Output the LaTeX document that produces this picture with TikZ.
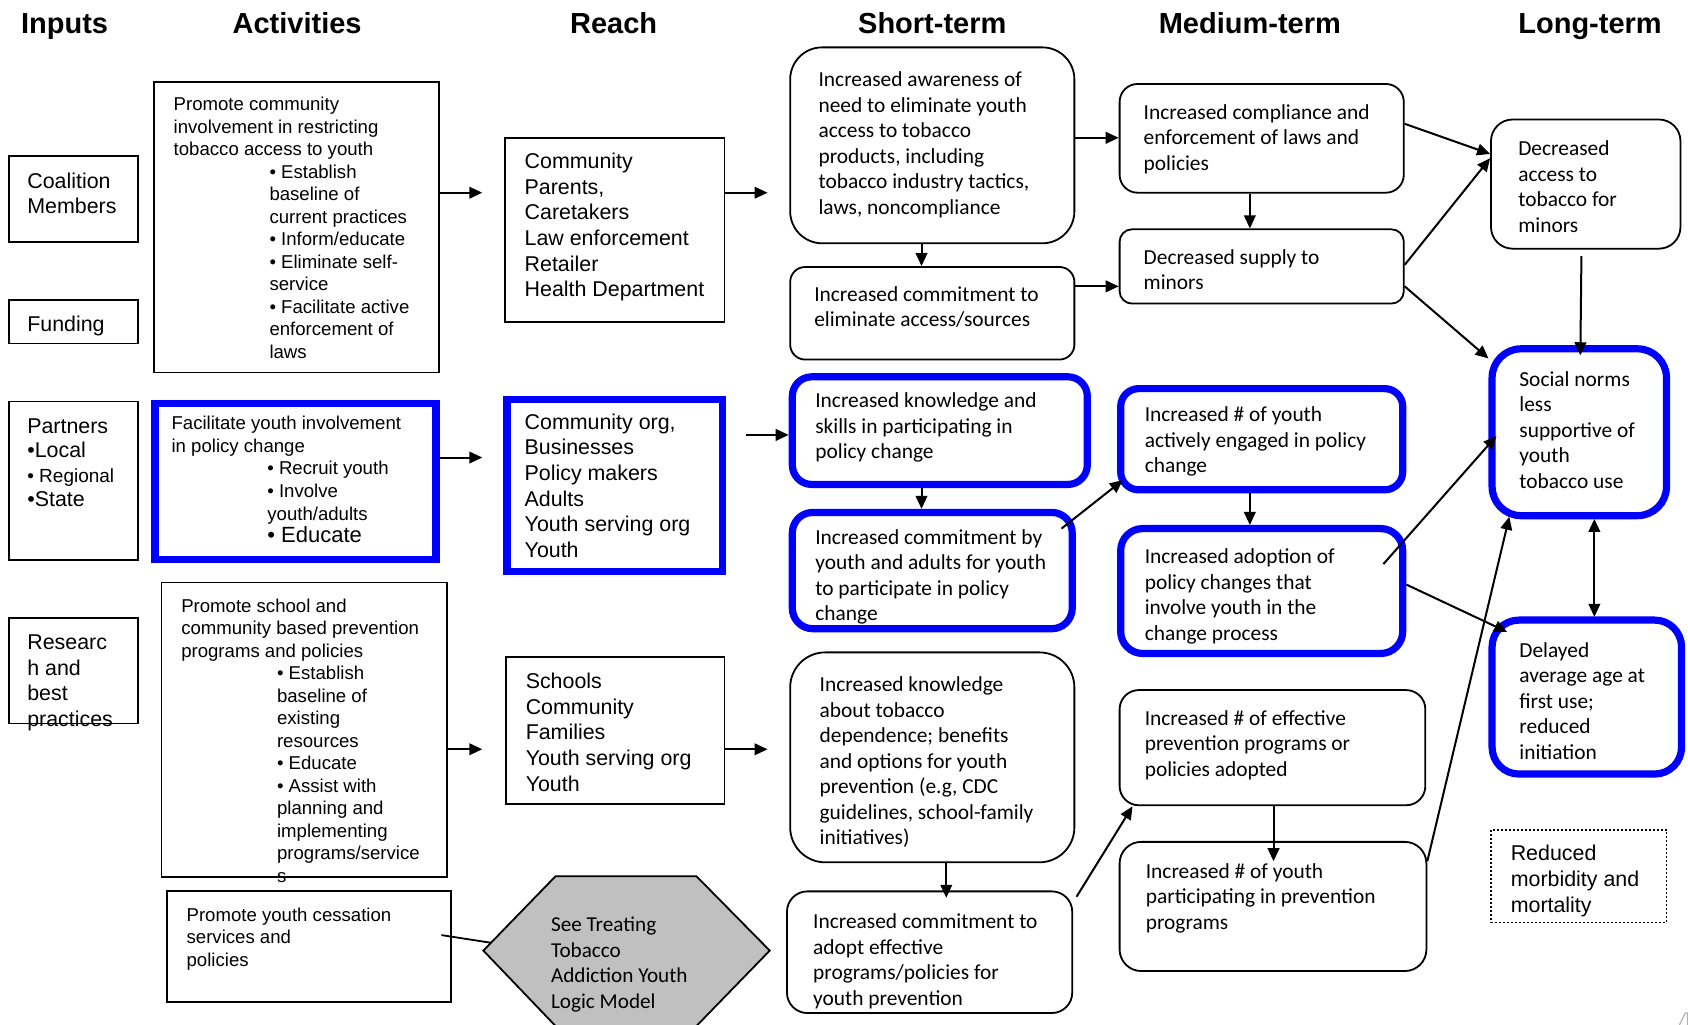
\documentclass[tikz,border=0pt]{standalone}
\usepackage{fontspec}
\setmainfont{Liberation Sans}
\newfontfamily\calib{Carlito}
\usetikzlibrary{arrows.meta,fit}
\definecolor{bluec}{RGB}{0,0,255}
\definecolor{hexgray}{RGB}{192,192,192}
\newcommand\myind{\hspace*{47.9pt}}
\begin{document}
\begin{tikzpicture}[x=0.5383pt,y=-0.5383pt,
  bx/.style={draw, inner sep=0pt, line width=0.9pt},
  bbx/.style={draw=bluec, inner sep=0pt, line width=3.6pt},
  rb/.style={bx, rounded corners=#1},
  rbb/.style={bbx, rounded corners=#1},
  arr/.style={line width=1pt, -{Triangle[length=6.5pt,width=5.8pt]}},
  darr/.style={line width=1pt, {Triangle[length=6.5pt,width=5.8pt]}-{Triangle[length=6.5pt,width=5.8pt]}},
  tA/.style={anchor=north west, inner sep=0pt, yshift=-0.8pt, align=left, font=\fontsize{9.3}{11.25}\selectfont},
  tR/.style={anchor=north west, inner sep=0pt, yshift=-0.8pt, align=left, font=\fontsize{10.7}{12.8}\selectfont},
  tC/.style={anchor=north west, inner sep=0pt, yshift=-0.8pt, align=left, font=\calib\fontsize{10.7}{12.75}\selectfont},
  hdr/.style={anchor=base, inner sep=0pt, font=\bfseries\fontsize{14.5}{17}\selectfont}]
\useasboundingbox (0,0) rectangle (1568,952);
\fill[white] (0,0) rectangle (1568,952);

% headers
\node[hdr] (h1) at (60,31) {Inputs};
\node[hdr] (h2) at (276,31) {Activities};
\node[hdr] (h3) at (570,31) {Reach};
\node[hdr] (h4) at (866,31) {Short-term};
\node[hdr] (h5) at (1161,31) {Medium-term};
\node[hdr] (h6) at (1477,31) {Long-term};

% inputs
\node[bx, fit={(8,145) (128,225)}] (in1) {};
\node[tR, font=\fontsize{10.7}{12.4}\selectfont] (in1t) at (25,159) {Coalition\\Members};
\node[bx, fit={(8,279) (128,319)}] (in2) {};
\node[tR] (in2t) at (25,292) {Funding};
\node[bx, fit={(8,373) (128,520)}] (in3) {};
\node[tR, font=\fontsize{10.7}{12.25}\selectfont] (in3t) at (25,387) {Partners\\•Local\\{\fontsize{9.5}{12}\selectfont • Regional}\\•State};
\node[bx, fit={(8,574) (128,672)}] (in4) {};
\node[tR, font=\fontsize{10.7}{12.75}\selectfont] (in4t) at (25,588) {Researc\\h and\\best\\practices};

% activities
\node[bx, fit={(143,76) (408,346)}] (a1) {};
\node[tA] (a1t) at (161,88.5) {Promote community\\involvement in restricting\\tobacco access to youth\\
\myind• Establish\\\myind baseline of\\\myind current practices\\\myind• Inform/educate\\\myind• Eliminate self-\\\myind service\\\myind• Facilitate active\\\myind enforcement of\\\myind laws};
\node[bbx, fit={(144,375) (405,520)}] (a2) {};
\node[tA, font=\fontsize{9.3}{11.35}\selectfont] (a2t) at (159,384.5) {Facilitate youth involvement\\in policy change\\
\myind• Recruit youth\\\myind• Involve\\\myind youth/adults\\\myind{\fontsize{11}{12}\selectfont• Educate}};
\node[bx, fit={(150,541) (415,815)}] (a3) {};
\node[tA] (a3t) at (168,554.5) {Promote school and\\community based prevention\\programs and policies\\
\myind• Establish\\\myind baseline of\\\myind existing\\\myind resources\\\myind• Educate\\\myind• Assist with\\\myind planning and\\\myind implementing\\\myind programs/service\\\myind s};
\node[bx, fit={(155,828) (419,931)}] (a4) {};
\node[tA] (a4t) at (173,841.5) {Promote youth cessation\\services and\\policies};

% reach
\node[bx, fit={(469,128) (673,299)}] (r1) {};
\node[tR] (r1t) at (487,140.5) {Community\\Parents,\\Caretakers\\Law enforcement\\Retailer\\Health Department};
\node[bbx, fit={(471,371) (671,531)}] (r2) {};
\node[tR] (r2t) at (487,382.5) {Community org,\\Businesses\\Policy makers\\Adults\\Youth serving org\\Youth};
\node[bx, fit={(470,610) (673,747)}] (r3) {};
\node[tR] (r3t) at (488,623.5) {Schools\\Community\\Families\\Youth serving org\\Youth};

% hexagon
\coordinate (hexL) at (449,883);
\coordinate (hexa) at (456.5,875.8);
\draw[fill=hexgray, line width=0.9pt] (hexL) -- (516,814) -- (647,814) -- (715,883) -- (647,953) -- (516,953) -- cycle;
\node[tC, font=\calib\fontsize{10.6}{12.8}\selectfont] (hext) at (511.5,850) {See Treating\\Tobacco\\Addiction Youth\\Logic Model};

% short-term
\node[rb=16pt, fit={(734,44) (998,226)}] (s1) {};
\node[tC] (s1t) at (760,65) {Increased awareness of\\need to eliminate youth\\access to tobacco\\products, including\\tobacco industry tactics,\\laws, noncompliance};
\node[rb=7.5pt, fit={(734,248) (998,334)}] (s2) {};
\node[tC] (s2t) at (756,264) {Increased commitment to\\eliminate access/sources};
\node[rbb=9.7pt, fit={(736,350) (1010,450)}] (s3) {};
\node[tC] (s3t) at (757,363) {Increased knowledge and\\skills in participating in\\policy change};
\node[rbb=10.2pt, fit={(736,476) (996,584)}] (s4) {};
\node[tC] (s4t) at (757,490) {Increased commitment by\\youth and adults for youth\\to participate in policy\\change};
\node[rb=17.5pt, fit={(734,606) (998,801)}] (s5) {};
\node[tC] (s5t) at (761,627) {Increased knowledge\\about tobacco\\dependence; benefits\\and options for youth\\prevention (e.g, CDC\\guidelines, school-family\\initiatives)};
\node[rb=10.2pt, fit={(731,828) (996,941)}] (s6) {};
\node[tC] (s6t) at (755,847) {Increased commitment to\\adopt effective\\programs/policies for\\youth prevention};

% medium-term
\node[rb=9pt, fit={(1040,78) (1304,179)}] (m1) {};
\node[tC] (m1t) at (1062,95) {Increased compliance and\\enforcement of laws and\\policies};
\node[rb=6.2pt, fit={(1040,213) (1304,282)}] (m2) {};
\node[tC] (m2t) at (1062,230) {Decreased supply to\\minors};
\node[rbb=9pt, fit={(1041,361) (1303,455)}] (m3) {};
\node[tC] (m3t) at (1063,376) {Increased \# of youth\\actively engaged in policy\\change};
\node[rbb=11pt, fit={(1041,491) (1303,607)}] (m4) {};
\node[tC] (m4t) at (1063,508) {Increased adoption of\\policy changes that\\involve youth in the\\change process};
\node[rb=9.6pt, fit={(1040,641) (1324,748)}] (m5) {};
\node[tC] (m5t) at (1063,658) {Increased \# of effective\\prevention programs or\\policies adopted};
\node[rb=10.8pt, fit={(1040,782) (1325,902)}] (m6) {};
\node[tC] (m6t) at (1064,800) {Increased \# of youth\\participating in prevention\\programs};

% long-term
\node[rb=10.8pt, fit={(1385,111) (1561,231)}] (l1) {};
\node[tC] (l1t) at (1410,129) {Decreased\\access to\\tobacco for\\minors};
\node[rbb=14.5pt, fit={(1386,324) (1548,479)}] (l2) {};
\node[tC] (l2t) at (1411,343) {Social norms\\less\\supportive of\\youth\\tobacco use};
\node[rbb=13.4pt, fit={(1386,576) (1562,719)}] (l3) {};
\node[tC] (l3t) at (1411,595) {Delayed\\average age at\\first use;\\reduced\\initiation};
\node[draw, inner sep=0pt, line width=0.8pt, dash pattern=on 1pt off 1pt, fit={(1385,771) (1548,857)}] (l4) {};
\node[tR, font=\fontsize{10.7}{12.9}\selectfont] (l4t) at (1403,783.5) {Reduced\\morbidity and\\mortality};

% connectors
\coordinate (t1) at (448,179);
\draw[arr] (a1.east |- t1) -- (t1);
\coordinate (t2) at (448,425);
\draw[arr] (a2.east |- t2) -- (t2);
\coordinate (t3) at (448,696);
\draw[arr] (a3.east |- t3) -- (t3);
\coordinate (t4) at (713,179);
\draw[arr] (r1.east |- t4) -- (t4);
\coordinate (f5) at (693,404);
\draw[arr] (f5) -- (s3.west |- f5);
\coordinate (t6) at (713,696);
\draw[arr] (r3.east |- t6) -- (t6);
\coordinate (f7) at (410,868.6);
\draw[line width=0.9pt] (f7) -- (hexa);

\draw[arr] (s1.south -| 856,0) -- (s2.north -| 856,0);
\draw[arr] (s1.east |- 0,128) -- (m1.west |- 0,128);
\draw[arr] (s2.east |- 0,266) -- (m2.west |- 0,266);
\draw[arr] (m1.south -| 1161,0) -- (m2.north -| 1161,0);
\draw[arr] (s3.south -| 856,0) -- (s4.north -| 856,0);
\coordinate (f13) at (986,491);
\coordinate (t13) at (1043,446);
\draw[arr] (f13) -- (t13);
\draw[arr] (m3.south -| 1161,0) -- (m4.north -| 1161,0);
\coordinate (t15) at (879,834);
\draw[arr] (s5.south -| 879,0) -- (t15);
\coordinate (f16) at (1000,833);
\coordinate (t16) at (1052,749);
\draw[arr] (f16) -- (t16);
\coordinate (t17) at (1183,800);
\draw[arr] (m5.south -| 1183,0) -- (t17);

\draw[arr] (m1.east |- 0,115) -- (l1.west |- 0,143);
\draw[arr] (m2.east |- 0,246) -- (l1.west |- 0,147);
\draw[arr] (m2.east |- 0,266) -- (l2.west |- 0,333);
\coordinate (f21) at (1469,238);
\coordinate (t21) at (1468,330);
\draw[arr] (f21) -- (t21);
\coordinate (f22) at (1285,524);
\coordinate (t22) at (1390,405);
\draw[arr] (f22) -- (t22);
\coordinate (t23) at (1400,587);
\draw[arr] (m4.east |- 0,543) -- (t23);
\coordinate (d1) at (1481,482);
\coordinate (d2) at (1481,573);
\draw[darr] (d1) -- (d2);
\coordinate (t25) at (1402,480);
\draw[arr] (m6.east |- 0,800) -- (t25);

% page corner mark
\draw[gray!60, line width=0.6pt] (1560,952) -- (1565.5,941) -- (1567.5,941) -- (1567.5,952);
\end{tikzpicture}
\end{document}
